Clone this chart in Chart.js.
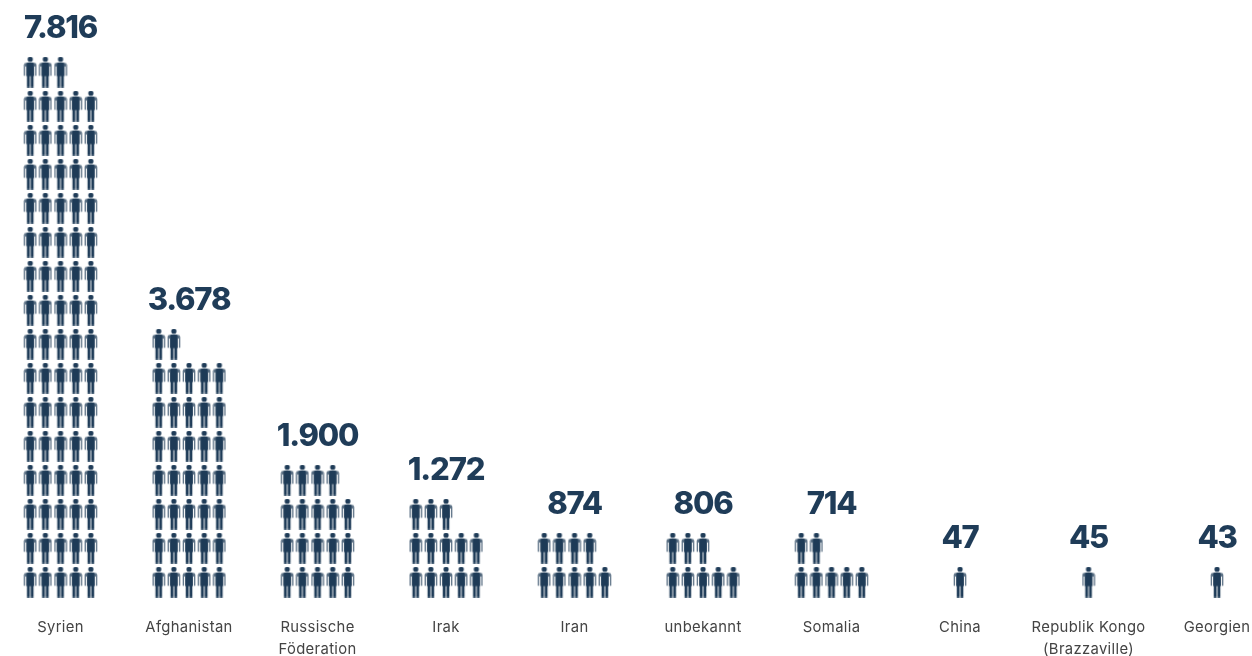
<!DOCTYPE html>
<html lang="de">
<head>
<meta charset="utf-8">
<title>Herkunftsländer</title>
<script src="https://cdn.jsdelivr.net/npm/chart.js@4/dist/chart.umd.min.js"></script>
<style>
    html, body { margin: 0; padding: 0; background: #ffffff; }
    #wrap { position: relative; width: 1252px; height: 656px; }
</style>
</head>
<body>
<div id="wrap"><canvas id="chart"></canvas></div>
<script>
// --- Data ---
const CATEGORIES = ["Syrien", "Afghanistan", ["Russische", "Föderation"], "Irak", "Iran", "unbekannt", "Somalia", "China", ["Republik Kongo", "(Brazzaville)"], "Georgien"];
const VALUES = [7816, 3678, 1900, 1272, 874, 806, 714, 47, 45, 43];
const VALUE_LABELS = ["7.816", "3.678", "1.900", "1.272", "874", "806", "714", "47", "45", "43"];
const PERSONS_PER_ICON = 100;
const ICONS_PER_ROW = 5;

const NAVY = '#1f3c58';

// one icon stands for 100 people, small groups still get one
function iconCount(v) {
    return Math.max(1, Math.round(v / PERSONS_PER_ICON));
}

function rowsOf(v) {
    return Math.ceil(iconCount(v) / ICONS_PER_ROW);
}

// x: column index plus a small offset per slot, y: row number from the bottom
const SLOT_WIDTH = 0.118;
const points = [];
VALUES.forEach((v, col) => {
    const n = iconCount(v);
    for (let i = 0; i < n; i++) {
        // a lone icon sits in the middle of its column
        const slot = n === 1 ? 0 : i % ICONS_PER_ROW - 2;
        points.push({
            x: col + slot * SLOT_WIDTH,
            y: Math.floor(i / ICONS_PER_ROW)
        });
    }
});

// --- Person icon used as point style ---
function makePersonIcon() {
    const c = document.createElement('canvas');
    c.width = 14;
    c.height = 31;
    const g = c.getContext('2d');
    g.fillStyle = NAVY;

    // head
    g.beginPath();
    g.arc(7, 2.7, 2.6, 0, Math.PI * 2);
    g.fill();

    // torso
    g.beginPath();
    g.roundRect(3.4, 6, 7.2, 13.4, [1.2, 1.2, 0, 0]);
    g.fill();

    // arms are a bit lighter than the body
    g.globalAlpha = 0.72;
    g.beginPath();
    g.roundRect(0.7, 6.2, 12.6, 13, [2.4, 2.4, 0.5, 0.5]);
    g.fill();
    g.globalAlpha = 1;

    // slits between arms and torso
    g.clearRect(2.4, 10, 1, 10);
    g.clearRect(10.6, 10, 1, 10);

    // legs, with a gap between them
    g.fillRect(3.7, 19, 2.85, 11.8);
    g.fillRect(7.45, 19, 2.85, 11.8);
    return c;
}

// --- Big numbers above each column ---
const valueLabelPlugin = {
    id: 'valueLabels',
    beforeDraw(chart) {
        // a little extra tracking for the category labels
        chart.ctx.letterSpacing = '0.35px';
    },
    afterDatasetsDraw(chart) {
        const ctx = chart.ctx;
        const xs = chart.scales.x;
        const ys = chart.scales.y;
        ctx.save();
        ctx.fillStyle = NAVY;
        ctx.font = '800 31px Inter';
        ctx.letterSpacing = '-1.2px';
        ctx.textAlign = 'center';
        ctx.textBaseline = 'middle';
        VALUES.forEach((v, col) => {
            const y = ys.getPixelForValue(rowsOf(v) - 1) - 43;
            ctx.fillText(VALUE_LABELS[col], xs.getPixelForValue(col), y);
        });
        ctx.restore();
    }
};

new Chart(document.getElementById('chart'), {
    type: 'scatter',
    data: {
        datasets: [{
            data: points,
            pointStyle: makePersonIcon(),
            pointRadius: 8
        }]
    },
    options: {
        responsive: true,
        maintainAspectRatio: false,
        animation: false,
        layout: { padding: 0, autoPadding: false },
        plugins: {
            legend: { display: false },
            tooltip: { enabled: false }
        },
        scales: {
            x: {
                type: 'linear',
                min: -0.471,
                max: 9.272,
                afterBuildTicks(scale) {
                    scale.ticks = CATEGORIES.map((c, i) => ({ value: i }));
                },
                afterFit(scale) {
                    // keep the plot area at full width, labels may overhang
                    scale.height = 56;
                    scale.paddingLeft = 0;
                    scale.paddingRight = 0;
                    scale.paddingTop = 0;
                    scale.paddingBottom = 0;
                },
                grid: { display: false },
                border: { display: false },
                ticks: {
                    autoSkip: false,
                    maxRotation: 0,
                    padding: 9,
                    color: '#444444',
                    font: { family: 'Inter', size: 14.8, lineHeight: 1.46 },
                    callback: (value) => CATEGORIES[value]
                }
            },
            y: {
                display: false,
                min: -0.529,
                max: 17.118
            }
        }
    },
    plugins: [valueLabelPlugin]
});
</script>
</body>
</html>
